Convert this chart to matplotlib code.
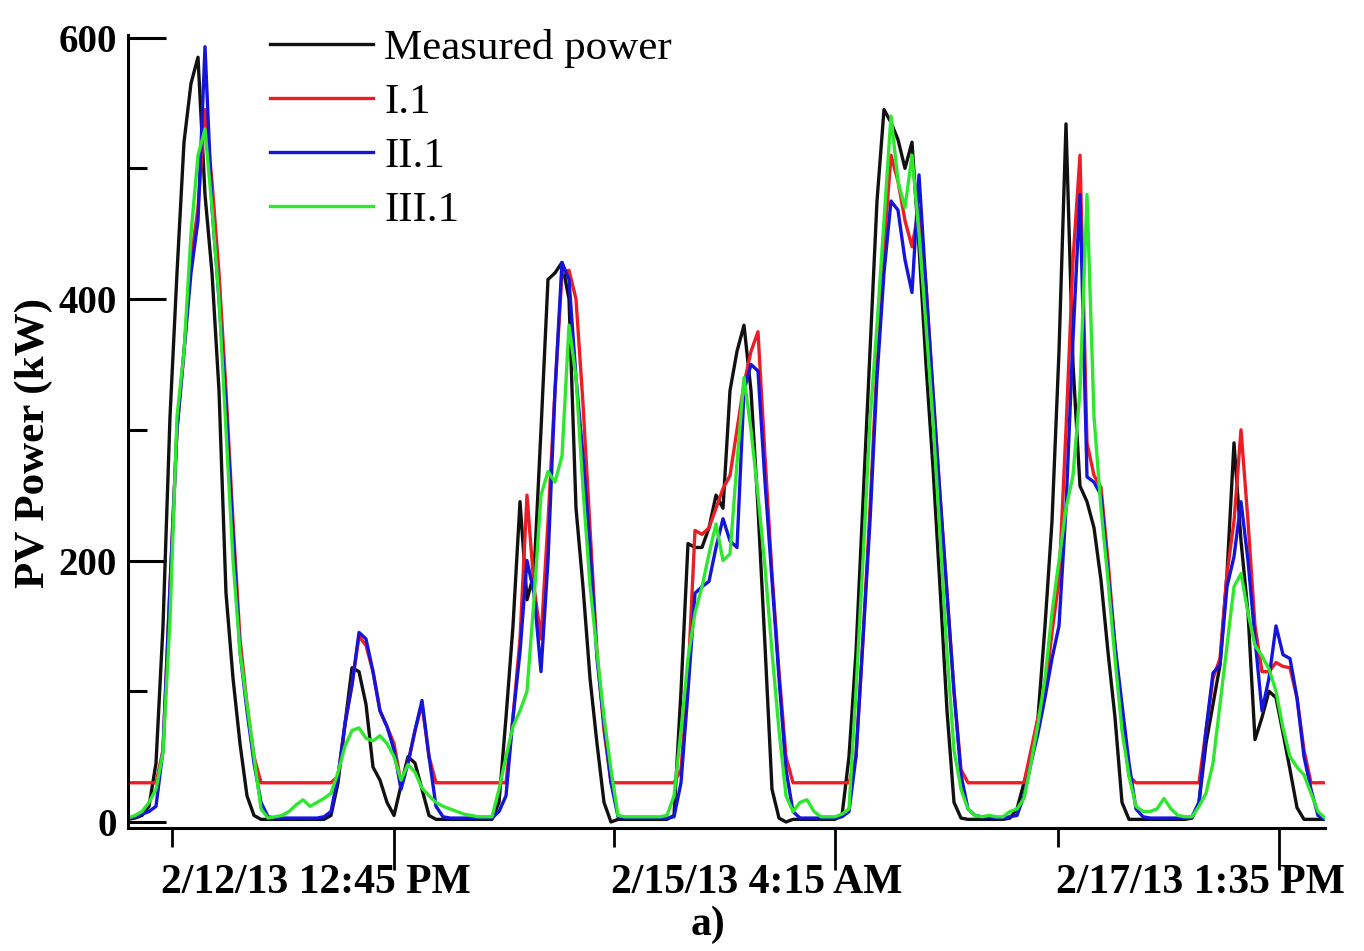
import numpy as np
import matplotlib
matplotlib.use("Agg")
import matplotlib.pyplot as plt
from matplotlib.transforms import ScaledTranslation

plt.rcParams['font.family'] = ['Liberation Serif', 'DejaVu Serif']

# sample index (uneven timestamps, plotted by index)
measured = [2, 3, 5, 12, 45, 150, 310, 420, 520, 565, 585, 480, 420, 330, 175, 110, 60, 20, 5, 2,
            2, 2, 2, 2, 2, 2, 2,
            2, 2, 5, 30, 75, 118, 115, 90, 42, 32, 15, 5, 28, 50, 45, 25, 5, 2, 2, 2, 2, 2, 2, 2,
            2, 2, 15, 80, 150, 245, 170, 190, 300, 415, 420, 428, 400, 240, 180, 110, 60, 15, 0, 2,
            2, 2, 2, 2, 2, 2, 2, 5,
            100, 213, 210, 210, 225, 250, 240, 330, 360, 380, 330, 240, 135, 25, 3, 0, 2, 2, 2, 2, 2,
            2, 2, 5, 50, 130, 245, 360, 475, 545, 535, 522, 500, 520, 440, 350, 271, 180, 85, 15, 3, 2, 2, 2,
            2, 2, 2, 3, 10, 30, 48, 80, 150, 230, 360, 534, 350, 257, 245, 225, 185, 130, 80, 15, 2, 2, 2, 2, 2, 2, 2, 2,
            2, 3, 15, 60, 90, 120, 190, 290, 215, 160, 63, 80, 100, 95, 68, 40, 11, 2, 2, 2, 2]

model_I1 = [30, 30, 30, 30, 30, 55, 180, 300, 360, 430, 470, 545, 490, 420, 330, 230, 140, 90, 50, 30, 30,
            30, 30, 30, 30, 30, 30, 30, 30, 30,
            35, 75, 105, 142, 135, 115, 85, 73, 60, 30, 45, 70, 90, 50, 30, 30,
            30, 30, 30, 30, 30, 30, 30, 30, 30,
            80, 140, 250, 180, 140, 230, 330, 420, 422, 400, 320, 225, 130, 70, 30, 30,
            30, 30, 30, 30, 30, 30, 30, 30, 40,
            110, 223, 220, 225, 240, 255, 265, 300, 335, 360, 375, 280, 190, 115, 50, 30,
            30, 30, 30, 30, 30, 30, 30, 30,
            50, 140, 240, 350, 440, 510, 490, 460, 440, 470, 410, 330, 250, 175, 100, 40, 30,
            30, 30, 30, 30, 30, 30, 30, 30,
            55, 80, 100, 145, 185, 300, 430, 510, 290, 265, 256, 200, 135, 80, 35,
            30, 30, 30, 30, 30, 30, 30, 30, 30, 30,
            70, 110, 125, 190, 230, 300, 230, 150, 115, 115, 122, 119, 118, 95, 55, 30, 30, 30]

model_II1 = [3, 4, 6, 8, 12, 55, 180, 300, 360, 420, 460, 593, 470, 400, 320, 220, 130, 85, 45, 15, 4,
             3, 3, 3, 3, 3, 3,
             3, 4, 8, 35, 75, 105, 145, 140, 115, 85, 73, 55, 25, 45, 70, 93, 50, 12, 4, 3, 3, 3, 3, 3,
             3, 3, 8, 20, 80, 130, 200, 175, 115, 200, 330, 428, 415, 340, 280, 210, 125, 75, 30, 4,
             3, 3, 3, 3, 3, 3, 3, 4,
             30, 100, 175, 180, 184, 210, 232, 215, 210, 330, 350, 345, 260, 185, 110, 40, 8, 3, 3, 3, 3,
             3, 3, 4, 8, 50, 140, 230, 340, 420, 475, 468, 430, 405, 495, 410, 328, 250, 175, 100, 36, 10, 5, 4,
             4, 3, 3, 4, 5, 20, 45, 68, 95, 125, 150, 240, 370, 480, 264, 260, 250, 190, 135, 90, 45, 10, 4, 3, 3, 3, 3, 3,
             3, 4, 15, 70, 114, 120, 180, 203, 245, 200, 140, 85, 110, 150, 128, 125, 95, 50, 25, 5, 2]

model_III1 = [3, 5, 8, 15, 25, 53, 155, 310, 360, 450, 510, 530, 470, 400, 300, 200, 130, 90, 50, 10, 3,
              4, 5, 8, 13, 17, 12, 15, 18, 22,
              38, 58, 70, 72, 64, 62, 66, 60, 50, 32, 44, 38, 26, 20, 15, 12, 10, 8, 6, 5, 4,
              4, 4, 25, 50, 73, 85, 100, 170, 250, 268, 260, 280, 380, 340, 255, 181, 130, 80, 40, 5,
              4, 4, 4, 4, 4, 4, 5, 20,
              70, 125, 160, 180, 205, 228, 200, 205, 275, 340, 300, 250, 195, 130, 70, 20, 8, 15, 17, 8, 4,
              4, 4, 6, 10, 100, 200, 307, 380, 460, 540, 490, 470, 510, 450, 380, 307, 220, 130, 55, 25, 10, 5, 4,
              5, 4, 4, 8, 10, 18, 45, 75, 110, 160, 200, 240, 265, 330, 480, 310, 240, 185, 125, 70, 35, 12, 8, 8, 10, 18, 10, 5,
              4, 4, 12, 22, 45, 90, 135, 180, 190, 160, 135, 127, 117, 100, 72, 50, 42, 36, 22, 8, 3]

series_names = ["Measured power", "I.1", "II.1", "III.1"]
series_colors = ["#111111", "#ee1c24", "#1414dd", "#2ee82e"]

major_tick_pos = [38.0, 101.0, 164.4]
minor_tick_pos = [6.3, 69.4, 132.9]
tick_labels = ["2/12/13 12:45 PM", "2/15/13 4:15 AM", "2/17/13 1:35 PM"]

fig = plt.figure(figsize=(13.64, 9.51), dpi=100)
ax = fig.add_axes([128/1364, 1-828/951, (1325-128)/1364, (828-35)/951])

for vals, name, col in zip([measured, model_I1, model_II1, model_III1], series_names, series_colors):
    x = np.arange(len(vals))
    ax.plot(x, vals, color=col, lw=2.4, label=name)

ax.set_xlim(0, 171)
ax.set_ylim(-4.6, 602)

for s in ['top', 'right']:
    ax.spines[s].set_visible(False)
for s in ['left', 'bottom']:
    ax.spines[s].set_linewidth(2.2)

ax.set_yticks([0, 200, 400, 600])
ax.set_yticks([100, 300, 500], minor=True)
ax.tick_params(axis='y', which='major', direction='in', length=27, width=2.2, pad=8, labelsize=28)
ax.tick_params(axis='y', which='minor', direction='in', length=14, width=2.2)
for lab in ax.get_yticklabels():
    lab.set_fontweight('bold')

ax.set_xticks(major_tick_pos)
ax.set_xticklabels(tick_labels, fontsize=30, fontweight='bold')
ax.set_xticks(minor_tick_pos, minor=True)
ax.tick_params(axis='x', which='major', direction='out', length=30, width=2.0, pad=-4)
ax.tick_params(axis='x', which='minor', direction='out', length=14, width=2.0)
shift = ScaledTranslation(-0.78, 0, fig.dpi_scale_trans)
for lab in ax.get_xticklabels():
    lab.set_transform(lab.get_transform() + shift)

ax.set_ylabel("PV Power (kW)", fontsize=31, fontweight='bold')
ax.yaxis.set_label_coords(-0.063, 0.485)

ax.legend(loc='upper left', bbox_to_anchor=(0.1186, 1.008), frameon=False, fontsize=31,
          handlelength=2.4, handletextpad=0.25, labelspacing=0.35, borderpad=0, borderaxespad=0)

fig.text(708/1364, 1-925/951, "a)", fontsize=30, fontweight='bold', ha='center', va='center')

fig.savefig("out.png", dpi=100)
